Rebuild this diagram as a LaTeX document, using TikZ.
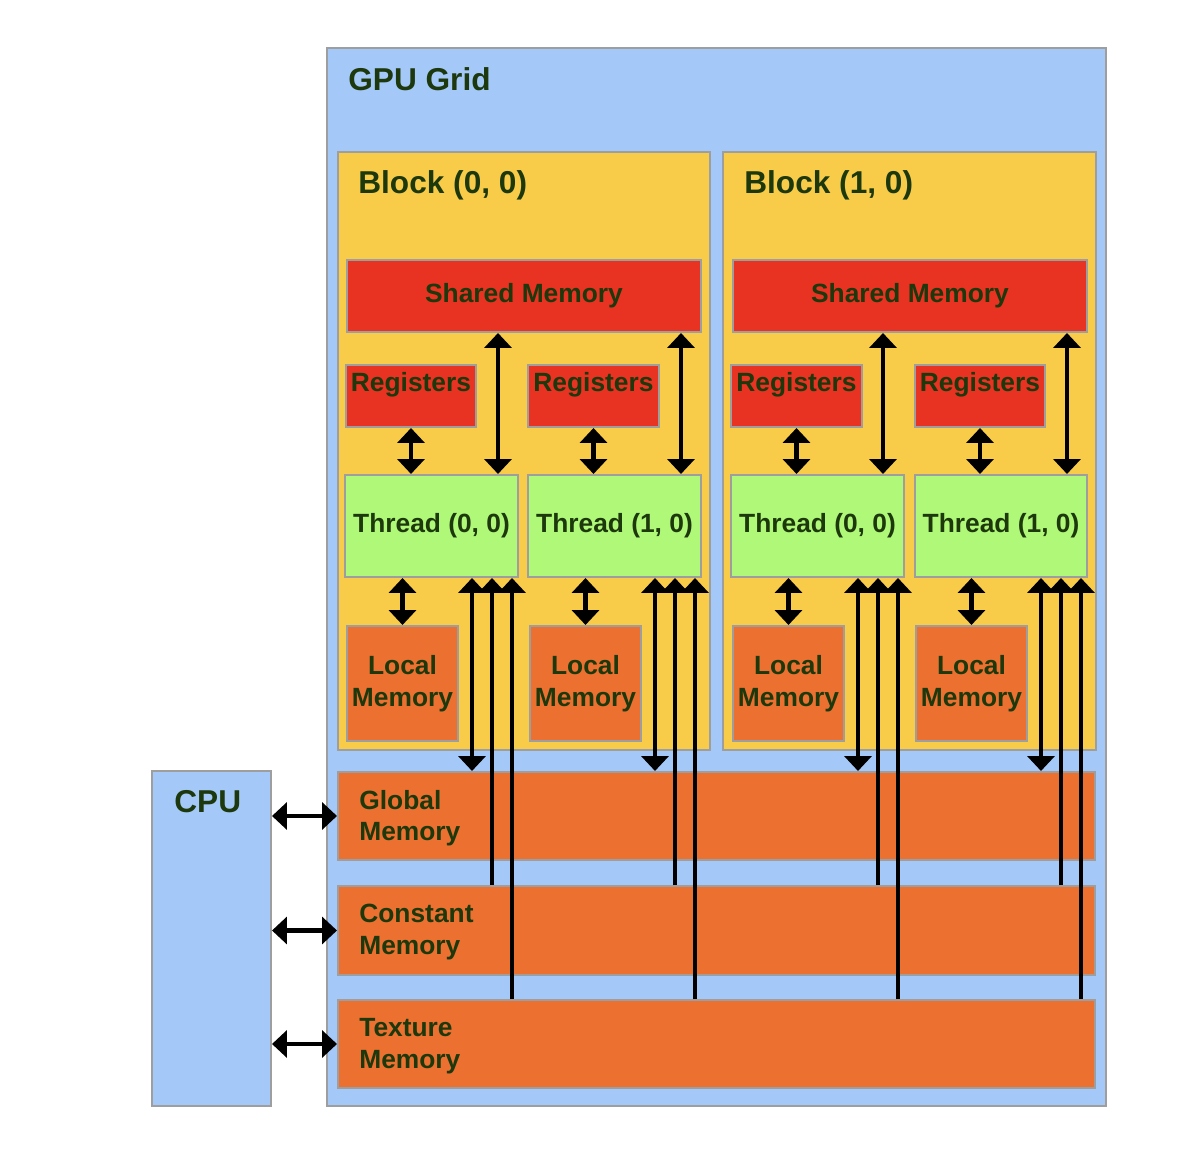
\documentclass[tikz,border=0pt]{standalone}
\usepackage{fontspec}
\setmainfont{Liberation Sans}
\usetikzlibrary{arrows.meta,fit,calc}
\definecolor{gridblue}{RGB}{164,200,248}
\definecolor{blockyel}{RGB}{248,204,72}
\definecolor{memred}{RGB}{232,50,34}
\definecolor{thrgreen}{RGB}{176,248,120}
\definecolor{memorange}{RGB}{236,112,48}
\definecolor{edgegray}{RGB}{158,158,158}
\definecolor{txtgreen}{RGB}{28,56,12}
\newcommand\thrarrows[5]{%
  \draw[dbl] (#2.south) -- (#2.south |- #1.north);
  \coordinate (#1sh) at ($(#1.north east)+(-#5,0)$);
  \draw[dbl] (#1sh) -- (#1sh |- #4.south);
  \draw[dbl] (#1.south -| #3.north) -- (#3.north);
  \coordinate (#1g) at ($(#1.south east)+(-47,0)$);
  \coordinate (#1c) at ($(#1.south east)+(-27,0)$);
  \coordinate (#1t) at ($(#1.south east)+(-7,0)$);
  \draw[dbl] (#1g) -- (#1g |- globmem.north);
  \draw[sgl] (#1c |- constmem.north) -- (#1c);
  \draw[sgl] (#1t |- texmem.north) -- (#1t);
}
\newcommand\memtext[2]{\node[lbl,align=center] (#1txt) at (#1.center) {#2};}
\begin{document}
\begin{tikzpicture}[x=0.02cm,y=-0.02cm,
  box/.style={draw=edgegray,line width=0.04cm,inner sep=0pt},
  title/.style={text=txtgreen,font=\fontsize{18}{22}\selectfont\bfseries,inner sep=0pt,anchor=base west},
  lbl/.style={text=txtgreen,font=\fontsize{15}{18}\selectfont\bfseries,inner sep=0pt,align=left},
  tip/.tip={Triangle[width=0.54cm,length=0.3cm]},
  dbl/.style={draw=black,line width=0.09cm,tip-tip},
  sgl/.style={draw=black,line width=0.09cm,-tip}]
\fill[white] (0,0) rectangle (1188,1172);
\useasboundingbox (0,0) rectangle (1188,1172);
% GPU grid
\node[box,fill=gridblue,fit={(327,48)(1106,1106)}] (gpu) {};
\node[title] (gputitle) at (348,91) {GPU Grid};
% CPU
\node[box,fill=gridblue,fit={(152,771)(271,1106)}] (cpu) {};
\node[title] (cputitle) at (174,812) {CPU};
% blocks
\node[box,fill=blockyel,fit={(338,152)(710,750)}] (blk0) {};
\node[title] (blk0title) at (358,194) {Block (0, 0)};
\node[box,fill=blockyel,fit={(723,152)(1096,750)}] (blk1) {};
\node[title] (blk1title) at (744,194) {Block (1, 0)};
% shared memory
\node[box,fill=memred,fit={(347,260)(701,332)}] (sm0) {};
\node[box,fill=memred,fit={(733,260)(1087,332)}] (sm1) {};
\memtext{sm0}{Shared Memory}
\memtext{sm1}{Shared Memory}
% registers
\node[box,fill=memred,fit={(346,365)(476,427)}] (r00) {};
\node[box,fill=memred,fit={(528,365)(659,427)}] (r01) {};
\node[box,fill=memred,fit={(731,365)(862,427)}] (r10) {};
\node[box,fill=memred,fit={(915,365)(1045,427)}] (r11) {};
\foreach \r in {r00,r01,r10,r11}
  \node[lbl,anchor=base] (\r txt) at (\r.north |- 0,392) {Registers};
% threads
\node[box,fill=thrgreen,fit={(345,475)(518,577)}] (t00) {};
\node[box,fill=thrgreen,fit={(528,475)(701,577)}] (t01) {};
\node[box,fill=thrgreen,fit={(731,475)(904,577)}] (t10) {};
\node[box,fill=thrgreen,fit={(915,475)(1087,577)}] (t11) {};
\memtext{t00}{Thread (0, 0)}
\memtext{t01}{Thread (1, 0)}
\memtext{t10}{Thread (0, 0)}
\memtext{t11}{Thread (1, 0)}
% local memory
\node[box,fill=memorange,fit={(347,626)(458,741)}] (l00) {};
\node[box,fill=memorange,fit={(530,626)(641,741)}] (l01) {};
\node[box,fill=memorange,fit={(733,626)(844,741)}] (l10) {};
\node[box,fill=memorange,fit={(916,626)(1027,741)}] (l11) {};
\memtext{l00}{Local\\Memory}
\memtext{l01}{Local\\Memory}
\memtext{l10}{Local\\Memory}
\memtext{l11}{Local\\Memory}
% device memories
\node[box,fill=memorange,fit={(338,772)(1095,860)}] (globmem) {};
\node[box,fill=memorange,fit={(338,886)(1095,975)}] (constmem) {};
\node[box,fill=memorange,fit={(338,1000)(1095,1088)}] (texmem) {};
\node[lbl,anchor=west] (globtxt) at (359,818) {Global\\Memory};
\node[lbl,anchor=west] (consttxt) at (359,932) {Constant\\Memory};
\node[lbl,anchor=west] (textxt) at (359,1046) {Texture\\Memory};
% arrows
\thrarrows{t00}{r00}{l00}{sm0}{21}
\thrarrows{t01}{r01}{l01}{sm0}{21}
\thrarrows{t10}{r10}{l10}{sm1}{22}
\thrarrows{t11}{r11}{l11}{sm1}{21}
\draw[dbl] (cpu.east |- globmem.west) -- (globmem.west);
\draw[dbl] (cpu.east |- constmem.west) -- (constmem.west);
\draw[dbl] (cpu.east |- texmem.west) -- (texmem.west);
\end{tikzpicture}
\end{document}
